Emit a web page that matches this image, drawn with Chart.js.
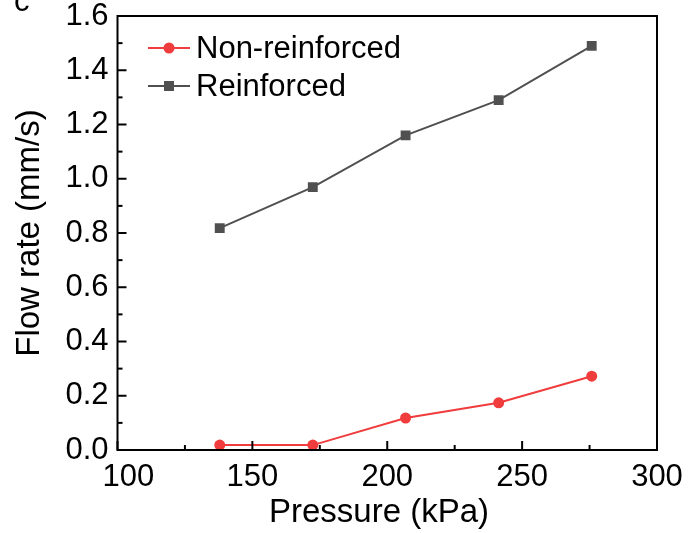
<!DOCTYPE html>
<html>
<head>
<meta charset="utf-8">
<script src="https://cdn.jsdelivr.net/npm/chart.js@4/dist/chart.umd.min.js"></script>
<style>
html,body{margin:0;padding:0;background:#fff;}
#wrap{width:699px;height:533px;position:relative;}
</style>
</head>
<body>
<div id="wrap"><canvas id="c" width="699" height="533"></canvas></div>
<script>
// Data
const pressure = [137.9, 172.4, 206.8, 241.3, 275.8];
const nonReinforced = [0.018, 0.018, 0.118, 0.174, 0.272];
const reinforced = [0.818, 0.969, 1.160, 1.290, 1.490];
const seriesLabels = ['Non-reinforced', 'Reinforced'];
const xTickValues = [100, 150, 200, 250, 300];
const yTickValues = [0.0, 0.2, 0.4, 0.6, 0.8, 1.0, 1.2, 1.4, 1.6];
const xTitle = 'Pressure (kPa)';
const yTitle = 'Flow rate (mm/s)';
const panelLabel = 'c';

const FONT = 'Arial, "Liberation Sans", sans-serif';
const RED = 'rgb(240,60,60)';
const GRAY = 'rgb(80,80,80)';

const ds = [
  {label: seriesLabels[0], data: pressure.map((x,i)=>({x, y: nonReinforced[i]})),
   borderColor: RED, backgroundColor: RED, pointStyle: 'circle', pointRadius: 5.5, borderWidth: 2, pointBorderWidth: 0},
  {label: seriesLabels[1], data: pressure.map((x,i)=>({x, y: reinforced[i]})),
   borderColor: GRAY, backgroundColor: GRAY, pointStyle: 'rect', pointRadius: 7, borderWidth: 2, pointBorderWidth: 0}
];

const framePlugin = {
  id: 'frame',
  afterDraw(chart) {
    const ctx = chart.ctx, a = chart.chartArea;
    const xs = chart.scales.x, ys = chart.scales.y;
    ctx.save();
    ctx.strokeStyle = '#000';
    ctx.lineWidth = 2;
    ctx.strokeRect(a.left, a.top, a.right - a.left, a.bottom - a.top);
    for (let i = 0; i < yTickValues.length; i++) {
      const v = yTickValues[i];
      let p = ys.getPixelForValue(v);
      ctx.beginPath(); ctx.moveTo(a.left, p); ctx.lineTo(a.left + 9, p); ctx.stroke();
      if (i < yTickValues.length - 1) {
        p = ys.getPixelForValue((v + yTickValues[i+1]) / 2);
        ctx.beginPath(); ctx.moveTo(a.left, p); ctx.lineTo(a.left + 5, p); ctx.stroke();
      }
    }
    for (let i = 0; i < xTickValues.length; i++) {
      const v = xTickValues[i];
      let p = xs.getPixelForValue(v);
      ctx.beginPath(); ctx.moveTo(p, a.bottom); ctx.lineTo(p, a.bottom - 9); ctx.stroke();
      if (i < xTickValues.length - 1) {
        p = xs.getPixelForValue((v + xTickValues[i+1]) / 2);
        ctx.beginPath(); ctx.moveTo(p, a.bottom); ctx.lineTo(p, a.bottom - 5); ctx.stroke();
      }
    }
    // legend
    ctx.font = '31px ' + FONT;
    ctx.textBaseline = 'middle';
    ctx.textAlign = 'left';
    const ly = [48, 86];
    chart.data.datasets.forEach((d, i) => {
      const y = ly[i];
      ctx.strokeStyle = d.borderColor; ctx.lineWidth = 2;
      ctx.beginPath(); ctx.moveTo(148, y); ctx.lineTo(190, y); ctx.stroke();
      ctx.fillStyle = d.backgroundColor;
      if (d.pointStyle === 'circle') {
        ctx.beginPath(); ctx.arc(169, y, 5.5, 0, Math.PI*2); ctx.fill();
      } else {
        ctx.fillRect(169 - 5, y - 5, 10, 10);
      }
      ctx.fillStyle = '#000';
      ctx.fillText(d.label, 196, y + 1);
    });
    ctx.textBaseline = 'alphabetic';
    ctx.fillText(panelLabel, 14, 11);
    ctx.restore();
  }
};

new Chart(document.getElementById('c'), {
  type: 'line',
  data: {datasets: ds},
  options: {
    responsive: false,
    animation: false,
    layout: {padding: {left: 0, top: 16, right: 42, bottom: 0}},
    plugins: {legend: {display: false}, tooltip: {enabled: false}},
    scales: {
      x: {
        type: 'linear', min: 100, max: 300,
        afterFit(s) { s.height = 83; s.paddingLeft = 0; s.paddingRight = 0; },
        afterBuildTicks(s) { s.ticks = xTickValues.map(v => ({value: v})); },
        grid: {display: false, drawTicks: false},
        border: {display: false},
        ticks: {color: '#000', font: {size: 31, family: FONT}, padding: 9, maxRotation: 0,
                callback: v => (v === xTickValues[0] ? '\u2002\u2009' + v : String(v))},
        title: {display: true, text: xTitle + '\u2002', color: '#000', font: {size: 33, family: FONT}, padding: {top: 0, bottom: 0}}
      },
      y: {
        type: 'linear', min: 0, max: 1.6,
        afterFit(s) { s.width = 117.5; s.paddingTop = 0; s.paddingBottom = 0; },
        afterBuildTicks(s) { s.ticks = yTickValues.map(v => ({value: v})); },
        grid: {display: false, drawTicks: false},
        border: {display: false},
        ticks: {color: '#000', font: {size: 31, family: FONT}, padding: 9, callback: v => v.toFixed(1)},
        title: {display: true, text: yTitle, color: '#000', font: {size: 33, family: FONT}, padding: {top: 10, bottom: 0}}
      }
    }
  },
  plugins: [framePlugin]
});
</script>
</body>
</html>
